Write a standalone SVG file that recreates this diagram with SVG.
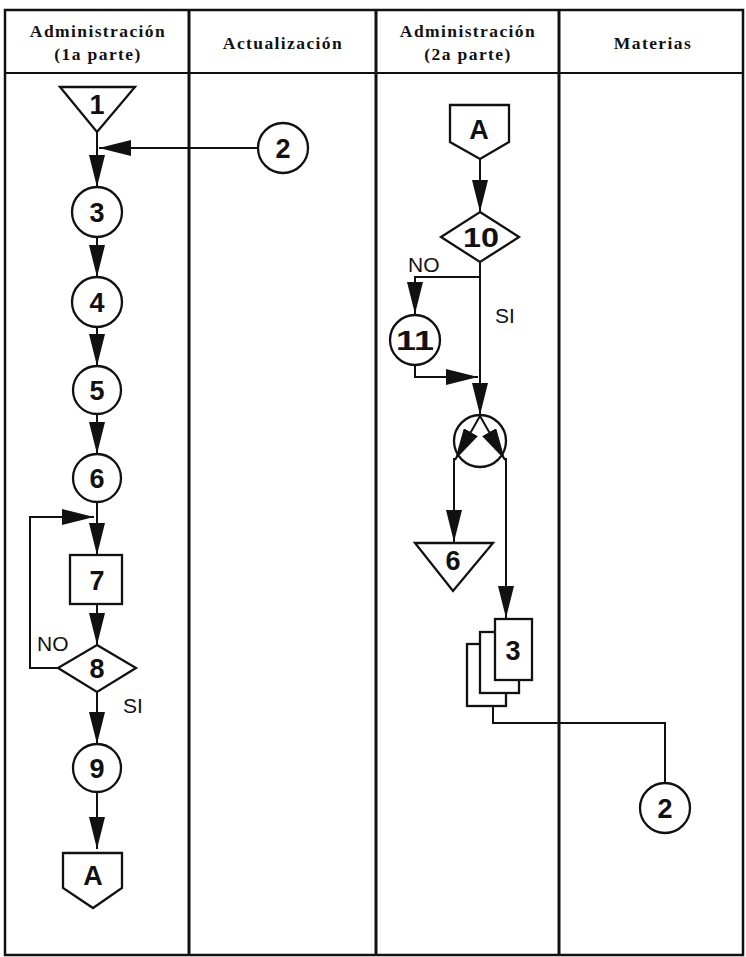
<svg xmlns="http://www.w3.org/2000/svg" width="746" height="957" viewBox="0 0 746 957">
<style>
.frame{fill:none;stroke:#111;stroke-width:2.5}
.div{stroke:#111;stroke-width:3}
.hd{font-family:"Liberation Serif","Times New Roman",serif;font-weight:bold;font-size:17.5px;letter-spacing:1.4px;text-anchor:middle;fill:#111}
.sh{fill:#fff;stroke:#111;stroke-width:2.3}
.lb{font-family:"Liberation Sans",Arial,sans-serif;font-weight:bold;font-size:27px;text-anchor:middle;fill:#111}
.tx{font-family:"Liberation Sans",Arial,sans-serif;font-size:21px;fill:#111}
.cn{fill:none;stroke:#111;stroke-width:2}
</style>
<defs>
<marker id="ah" markerUnits="userSpaceOnUse" markerWidth="32" markerHeight="16" refX="32" refY="8" orient="auto">
<path d="M0,0 L32,8 L0,16 Z" fill="#111"/>
</marker>
</defs>
<rect width="746" height="957" fill="#fff"/>
<g id="table">
<rect class="frame" x="5" y="10" width="738" height="945"/>
<line class="div" x1="5" y1="73" x2="743" y2="73" style="stroke-width:2"/>
<line class="div" x1="189" y1="10" x2="189" y2="955"/>
<line class="div" x1="376" y1="10" x2="376" y2="955"/>
<line class="div" x1="559" y1="10" x2="559" y2="955"/>
<text class="hd" x="98" y="37">Administración</text>
<text class="hd" x="98" y="60">(1a parte)</text>
<text class="hd" x="283" y="49">Actualización</text>
<text class="hd" x="468" y="37">Administración</text>
<text class="hd" x="468" y="60">(2a parte)</text>
<text class="hd" x="653" y="49">Materias</text>
</g>
<g id="connectors">
<line class="cn" x1="97" y1="132" x2="97" y2="187" marker-end="url(#ah)"/>
<line class="cn" x1="258" y1="148" x2="99" y2="148" marker-end="url(#ah)"/>
<line class="cn" x1="97" y1="237" x2="97" y2="277" marker-end="url(#ah)"/>
<line class="cn" x1="97" y1="327" x2="97" y2="366" marker-end="url(#ah)"/>
<line class="cn" x1="97" y1="414" x2="97" y2="454" marker-end="url(#ah)"/>
<line class="cn" x1="97" y1="502" x2="97" y2="555" marker-end="url(#ah)"/>
<path class="cn" d="M58,668 H30 V517 H94" marker-end="url(#ah)"/>
<line class="cn" x1="97" y1="604" x2="97" y2="645" marker-end="url(#ah)"/>
<line class="cn" x1="97" y1="692" x2="97" y2="744" marker-end="url(#ah)"/>
<line class="cn" x1="97" y1="792" x2="97" y2="849" marker-end="url(#ah)"/>
<line class="cn" x1="480" y1="159" x2="480" y2="212" marker-end="url(#ah)"/>
<line class="cn" x1="480" y1="262" x2="480" y2="415" marker-end="url(#ah)"/>
<path class="cn" d="M480,277 H415 V314" marker-end="url(#ah)"/>
<path class="cn" d="M415,365 V377 H478" marker-end="url(#ah)"/>
<line class="cn" x1="454" y1="458" x2="454" y2="542" marker-end="url(#ah)"/>
<line class="cn" x1="506" y1="458" x2="506" y2="618" marker-end="url(#ah)"/>
<path class="cn" d="M493,706 V723 H665 V783"/>
</g>
<g id="n1"><polygon class="sh" points="60,87 135,87 97,132"/><text class="lb" x="97" y="114">1</text></g>
<g id="n2a"><circle class="sh" cx="283" cy="148" r="25"/><text class="lb" x="283" y="158">2</text></g>
<g id="n3"><circle class="sh" cx="97" cy="212" r="25"/><text class="lb" x="97" y="222">3</text></g>
<g id="n4"><circle class="sh" cx="97" cy="302" r="25"/><text class="lb" x="97" y="312">4</text></g>
<g id="n5"><circle class="sh" cx="97" cy="390" r="24"/><text class="lb" x="97" y="400">5</text></g>
<g id="n6"><circle class="sh" cx="97" cy="478" r="24"/><text class="lb" x="97" y="488">6</text></g>
<g id="n7"><rect class="sh" x="70" y="555" width="52" height="49"/><text class="lb" x="97" y="590">7</text></g>
<g id="n8"><polygon class="sh" points="97,645 136,668 97,692 58,668"/><text class="lb" x="97" y="678">8</text>
<text class="tx" x="37" y="651">NO</text><text class="tx" x="123" y="713">SI</text></g>
<g id="n9"><circle class="sh" cx="97" cy="768" r="24"/><text class="lb" x="97" y="778">9</text></g>
<g id="nA1"><polygon class="sh" points="63,853 122,853 122,888 93,908 63,888"/><text class="lb" x="93" y="885">A</text></g>
<g id="nA2"><polygon class="sh" points="450,105 509,105 509,142 480,159 450,142"/><text class="lb" x="479" y="139">A</text></g>
<g id="n10"><polygon class="sh" points="480,212 519,237 480,262 441,237"/><text class="lb" x="481" y="247" textLength="36" lengthAdjust="spacingAndGlyphs">10</text>
<text class="tx" x="408" y="272">NO</text><text class="tx" x="495" y="323">SI</text></g>
<g id="n11"><circle class="sh" cx="415" cy="340" r="25"/><text class="lb" x="415" y="350" textLength="38" lengthAdjust="spacingAndGlyphs">11</text></g>
<g id="nX"><circle cx="480" cy="441" r="26" fill="none" stroke="#111" stroke-width="2.3"/>
<line class="cn" x1="480" y1="416" x2="455" y2="460" marker-end="url(#ah)"/>
<line class="cn" x1="480" y1="416" x2="505" y2="460" marker-end="url(#ah)"/></g>
<g id="n6b"><polygon class="sh" points="415,543 493,543 453,591"/><text class="lb" x="453" y="570">6</text></g>
<g id="n3doc"><rect class="sh" x="467" y="644" width="39" height="62"/><rect class="sh" x="480" y="632" width="39" height="61"/><rect class="sh" x="495" y="619" width="37" height="61"/><text class="lb" x="513" y="660">3</text></g>
<g id="n2b"><circle class="sh" cx="665" cy="808" r="25"/><text class="lb" x="665" y="818">2</text></g>
</svg>
